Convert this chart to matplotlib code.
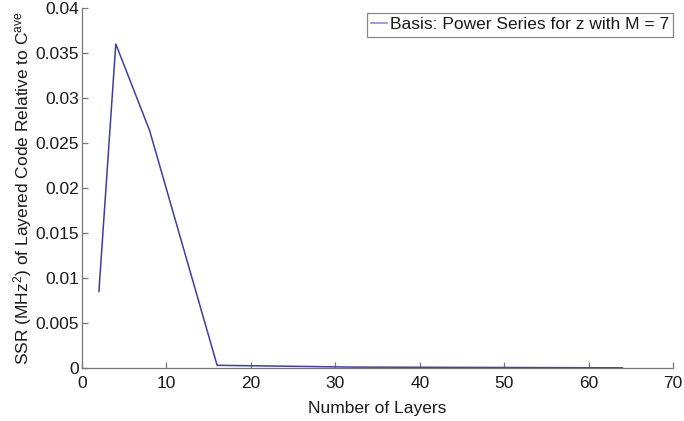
import matplotlib
matplotlib.use("Agg")
import matplotlib.pyplot as plt

# values
layers = [2, 4, 8, 16, 32, 64]
ssr = [0.0085, 0.036, 0.0264, 0.0003, 0.0001, 0.00002]
x_ticks = [0, 10, 20, 30, 40, 50, 60, 70]
y_ticks = [0, 0.005, 0.01, 0.015, 0.02, 0.025, 0.03, 0.035, 0.04]
y_tick_labels = ["0", "0.005", "0.01", "0.015", "0.02", "0.025", "0.03", "0.035", "0.04"]

plt.rcParams['font.family'] = ['Liberation Sans', 'DejaVu Sans']
plt.rcParams['mathtext.default'] = 'regular'

fig = plt.figure(figsize=(6.84, 4.21), dpi=100)
ax = fig.add_axes([0.1199, 0.1259, 0.8641, 0.8551])

ax.plot(layers, ssr, color='#3f3f9a', linewidth=1.1,
        label="Basis: Power Series for z with M = 7")

ax.set_xlim(0, 70)
ax.set_ylim(0, 0.04)
ax.set_xticks(x_ticks)
ax.set_yticks(y_ticks)
ax.set_yticklabels(y_tick_labels)

for side in ['top', 'right']:
    ax.spines[side].set_visible(False)
for side in ['left', 'bottom']:
    ax.spines[side].set_color('#777777')
    ax.spines[side].set_linewidth(0.9)

ax.tick_params(direction='in', length=4, width=0.9, color='#777777',
               labelsize=12.5, labelcolor='#1a1a1a')
ax.tick_params(axis='x', pad=6)
ax.tick_params(axis='y', pad=2)

ax.set_xlabel("Number of Layers", fontsize=12.5, color='#1a1a1a', labelpad=7)
ax.set_ylabel("SSR (MHz$^2$) of Layered Code Relative to C$^{ave}$",
              fontsize=12.5, color='#1a1a1a', labelpad=1)

leg = ax.legend(loc='upper right', bbox_to_anchor=(1.0, 1 - 5 / 360),
                fontsize=12.5, fancybox=False, borderaxespad=0,
                handlelength=0.9, handletextpad=0.15,
                borderpad=0.25, framealpha=1)
leg.get_frame().set_edgecolor('#888888')
leg.get_frame().set_linewidth(0.9)
leg.get_lines()[0].set_color('#8a80d0')
for t in leg.get_texts():
    t.set_color('#1a1a1a')

fig.savefig("out.png", dpi=100)
